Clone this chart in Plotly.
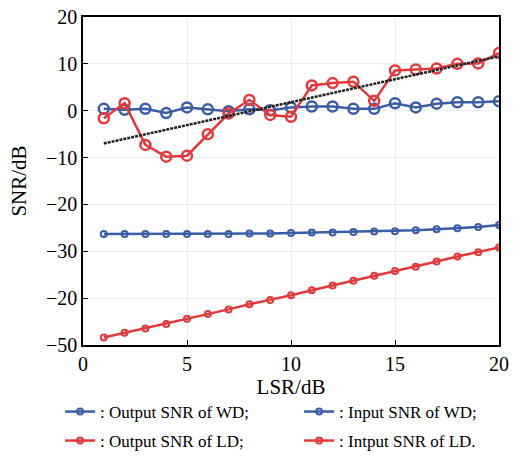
import numpy as np
import plotly.graph_objects as go

# LSR values (dB)
lsr = list(range(1, 21))

# Output SNR (dB)
out_wd = [0.4, 0.2, 0.4, -0.5, 0.7, 0.3, -0.1, 0.3, 0.1, 0.7,
          0.9, 0.9, 0.4, 0.4, 1.6, 0.7, 1.5, 1.8, 1.8, 2.0]
out_ld = [-1.6, 1.6, -7.3, -9.8, -9.6, -5.0, -0.6, 2.3, -0.9, -1.3,
          5.4, 5.9, 6.2, 2.1, 8.6, 8.8, 9.0, 10.0, 10.1, 12.3]

# Input SNR (dB)
in_wd = [-26.3, -26.3, -26.3, -26.3, -26.3, -26.3, -26.3, -26.2, -26.2, -26.1,
         -26.0, -26.0, -25.9, -25.8, -25.7, -25.5, -25.3, -25.1, -24.8, -24.4]
in_ld = [-48.4, -47.4, -46.5, -45.5, -44.4, -43.4, -42.4, -41.3, -40.4, -39.4,
         -38.3, -37.3, -36.3, -35.2, -34.2, -33.3, -32.2, -31.1, -30.2, -29.2]

x_ticks = [0, 5, 10, 15, 20]
y_ticks = [20, 10, 0, -10, -20, -30, -40, -50]
y_ticktext = ["20", "10", "0", "\u221210", "\u221220", "\u221230", "\u221220", "\u221250"]

series_names = [": Output SNR of WD;", ": Input SNR of WD;",
                ": Output SNR of LD;", ": Intput SNR of LD."]

BLUE = "#3c5ca6"
RED = "#e03a3c"
FONT = "Liberation Serif"

# linear trend of the LD output SNR
slope, intercept = np.polyfit(lsr, out_ld, 1)
trend = [slope * v + intercept for v in lsr]

fig = go.Figure()

series = [
    (out_wd, BLUE, 10, "legend"),
    (in_wd, BLUE, 6, "legend"),
    (out_ld, RED, 10, "legend2"),
    (in_ld, RED, 6, "legend2"),
]

for (vals, color, msize, _), name in zip(series, series_names):
    fig.add_trace(go.Scatter(
        x=lsr, y=vals, mode="lines+markers", name=name, showlegend=False,
        line=dict(color=color, width=2.5),
        marker=dict(symbol="circle-open", size=msize, color=color,
                    line=dict(width=2.5 if msize > 8 else 2)),
    ))

fig.add_trace(go.Scatter(
    x=lsr, y=trend, mode="lines", showlegend=False,
    line=dict(color="#222222", width=2.5, dash="3px,1px"),
))

# legend entries: line with a small circle, two per row
for (vals, color, msize, leg), name in zip(series, series_names):
    fig.add_trace(go.Scatter(
        x=[None], y=[None], mode="lines+markers", name=name, legend=leg,
        line=dict(color=color, width=2.5),
        marker=dict(symbol="circle-open", size=6, color=color, line=dict(width=2)),
    ))

axis_common = dict(
    showline=True, linecolor="black", linewidth=1.5, mirror=True,
    ticks="inside", ticklen=5, tickcolor="black", tickwidth=1,
    showgrid=True, gridcolor="#ececec", gridwidth=1, zeroline=False,
    tickfont=dict(family=FONT, size=20, color="black"),
)

fig.update_xaxes(
    range=[0, 20], tickvals=x_ticks,
    title=dict(text="LSR/dB", font=dict(family=FONT, size=21, color="black"), standoff=2),
    **axis_common,
)
fig.update_yaxes(
    range=[-50, 20], tickvals=y_ticks, ticktext=y_ticktext,
    title=dict(text="SNR/dB", font=dict(family=FONT, size=21, color="black"), standoff=14),
    **axis_common,
)

legend_common = dict(
    orientation="h", x=-0.055, xanchor="left", yanchor="middle",
    entrywidth=194, entrywidthmode="pixels",
    font=dict(family=FONT, size=17, color="black"),
    itemwidth=30, bgcolor="rgba(0,0,0,0)",
)

fig.update_layout(
    width=523, height=459,
    margin=dict(l=83, r=24, t=17, b=114, autoexpand=False),
    paper_bgcolor="white", plot_bgcolor="white",
    font=dict(family=FONT, size=17, color="black"),
    legend=dict(y=-(412 - 345) / 328, **legend_common),
    legend2=dict(y=-(441 - 345) / 328, **legend_common),
)

fig.write_html("out.html")
